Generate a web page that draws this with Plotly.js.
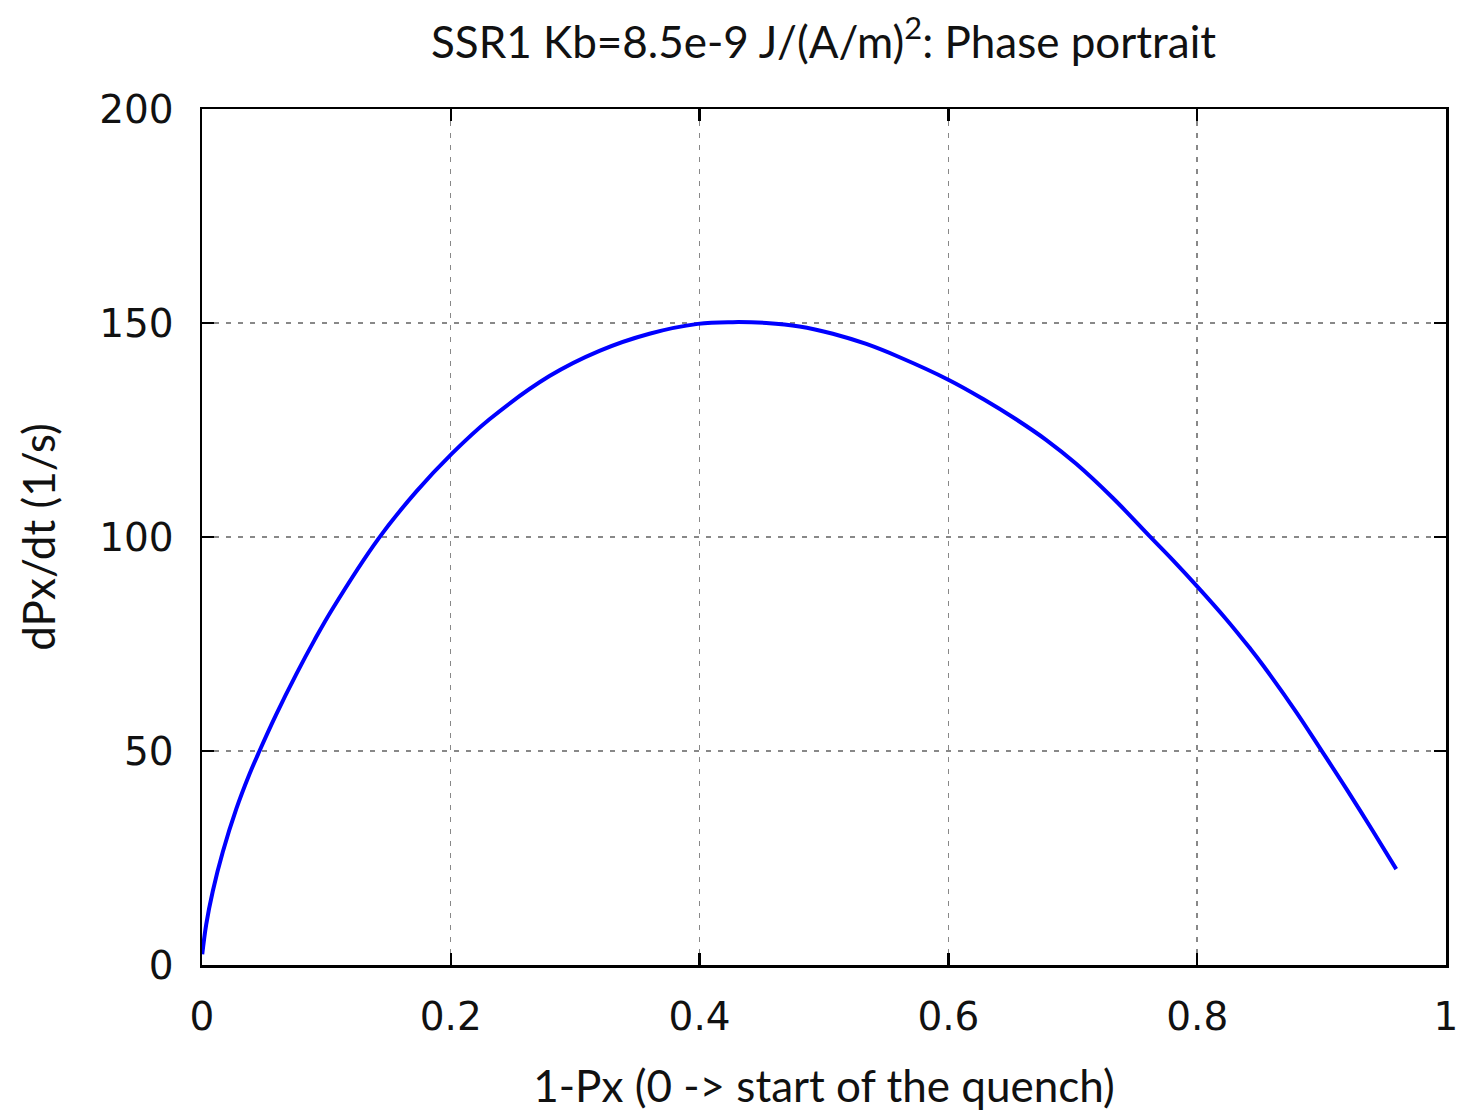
<!DOCTYPE html>
<html>
<head>
<meta charset="utf-8">
<script src="https://cdn.plot.ly/plotly-3.0.1.min.js"></script>
<style>html,body{margin:0;padding:0;background:#fff;}#chart{width:1460px;height:1111px;}</style>
</head>
<body>
<div id="chart"></div>
<script>
const xValues = [0.0002, 0.0034, 0.0087, 0.0167, 0.0275, 0.0382, 0.0462, 0.0596, 0.0757, 0.0904, 0.1051, 0.1413, 0.1722, 0.2003, 0.2311, 0.2793, 0.3195, 0.3597, 0.3986, 0.4267, 0.4536, 0.4803, 0.5071, 0.534, 0.5608, 0.6003, 0.6276, 0.6544, 0.6785, 0.7027, 0.7322, 0.7617, 0.7804, 0.8005, 0.8233, 0.8421, 0.8527, 0.8796, 0.8997, 0.9198, 0.9412, 0.96];
const yValues = [2.5, 9.5, 17.3, 26.4, 36.4, 44.6, 50.0, 58.5, 67.9, 75.9, 83.3, 99.4, 110.6, 119.3, 127.5, 137.6, 143.5, 147.5, 149.8, 150.2, 150.0, 149.2, 147.5, 145.1, 142.0, 136.7, 132.3, 127.5, 122.7, 117.1, 109.1, 100.2, 94.6, 88.3, 80.8, 74.1, 70.1, 59.1, 50.2, 41.2, 31.3, 22.4];
const xTicks = [0, 0.2, 0.4, 0.6, 0.8, 1];
const xTickLabels = ['0', '0.2', '0.4', '0.6', '0.8', '1'];
const yTicks = [0, 50, 100, 150, 200];
const yTickLabels = ['0', '50', '100', '150', '200'];

const titleFont = {family: 'Lato, "Open Sans", sans-serif', size: 44, color: '#111'};
const tickFont = {family: '"DejaVu Sans", Verdana, sans-serif', size: 39, color: '#111'};

const trace = {
  x: xValues, y: yValues, type: 'scatter', mode: 'lines',
  line: {color: '#0000ff', width: 4, shape: 'spline', smoothing: 1.1},
  hoverinfo: 'skip'
};

const axisCommon = {
  showline: true, linecolor: '#000', linewidth: 2.5, mirror: 'ticks',
  ticks: 'inside', ticklen: 12, tickwidth: 2.5, tickcolor: '#000',
  showgrid: true, gridcolor: '#888', gridwidth: 1.4, griddash: '5px,7px',
  zeroline: false, tickfont: tickFont, automargin: false
};

const layout = {
  width: 1460, height: 1111,
  paper_bgcolor: '#fff', plot_bgcolor: '#fff',
  margin: {l: 202, r: 14, t: 109, b: 146},
  showlegend: false,
  title: {text: 'SSR1 Kb=8.5e-9 J/(A/m)<sup>2</sup>: Phase portrait', font: titleFont, x: 0.564, xanchor: 'center', y: 0.962, yanchor: 'middle'},
  xaxis: Object.assign({}, axisCommon, {
    range: [0, 1], tickvals: xTicks, ticktext: xTickLabels, ticklabelstandoff: 16,
    title: {text: '1-Px (0 -> start of the quench)', font: titleFont, standoff: 36}
  }),
  yaxis: Object.assign({}, axisCommon, {
    range: [0, 200], tickvals: yTicks, ticktext: yTickLabels, ticklabelstandoff: 18,
    title: {text: 'dPx/dt (1/s)', font: titleFont, standoff: 30}
  })
};

Plotly.newPlot('chart', [trace], layout, {staticPlot: true, displayModeBar: false});
</script>
</body>
</html>
